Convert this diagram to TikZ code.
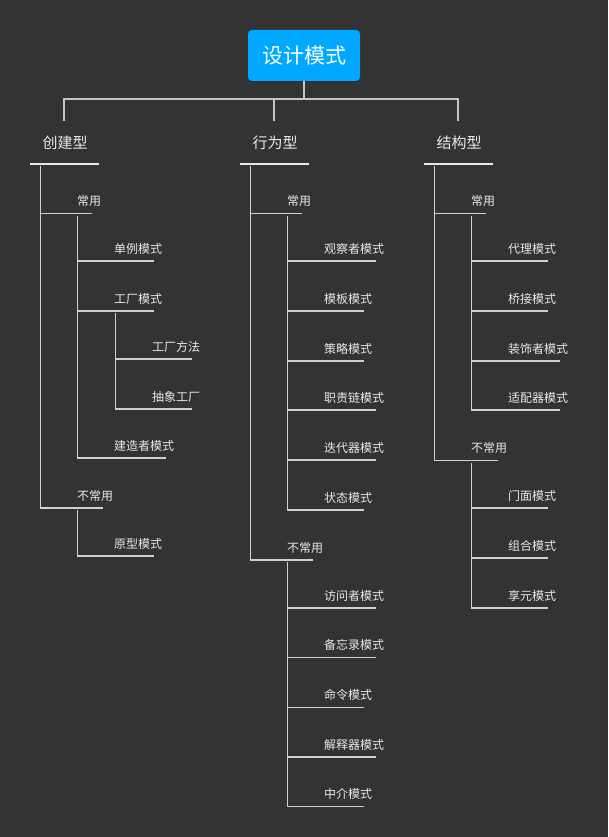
\documentclass[tikz,border=0pt]{standalone}
\usepackage{fontspec}
\setmainfont{Noto Sans CJK SC}
\usetikzlibrary{calc}
\definecolor{bgc}{HTML}{333333}
\definecolor{rootc}{HTML}{00A8FF}
\definecolor{txtc}{HTML}{E8E8E8}
\definecolor{linec}{HTML}{D0D0D0}
\definecolor{topc}{HTML}{C4C4C4}
\tikzset{
  lbl/.style={inner sep=0pt, text=txtc, font=\fontsize{12pt}{14pt}\selectfont},
  lvone/.style={inner sep=0pt, text=txtc, font=\fontsize{15pt}{17pt}\selectfont},
  rootbox/.style={fill=rootc, rounded corners=4pt, minimum width=112pt, minimum height=51pt, inner sep=0pt, text=white, font=\fontsize{21pt}{24pt}\selectfont},
  ul/.style={draw=linec, line width=1.3pt},
  vl/.style={draw=linec, line width=1pt},
  topl/.style={draw=topc, line width=2pt},
  lvul/.style={draw=txtc, line width=2pt}
}
\newcommand\mmitem[5]{%
  \coordinate (#1-s) at (#2,#3);
  \coordinate (#1-e) at (#2+#4,#3);
  \node[lbl,anchor=west] (#1) at (#2+37,#3-12.5) {#5};
  \draw[ul] (#1-s) -- (#1-e);
}
\newcommand\mmtop[4]{% name, centre x, text
  \coordinate (#1-t) at (#2,121);
  \node[lvone] (#1) at (#2+1,143) {#3};
  \coordinate (#1-s) at (#2-34,164);
  \coordinate (#1-e) at (#2+35,164);
  \draw[lvul] (#1-s) -- (#1-e);
}
\begin{document}
\begin{tikzpicture}[x=1pt,y=-1pt]
\fill[bgc] (0,0) rectangle (608,837);
\useasboundingbox (0,0) rectangle (608,837);

\node[rootbox] (root) at (304,55.5) {设计模式};
\coordinate (hub) at (304,99);

\mmtop{c1}{64}{创建型}{}
\mmtop{c2}{274}{行为型}{}
\mmtop{c3}{458}{结构型}{}

\draw[topl] (root.south) -- (hub);
\draw[topl] (c1-t) |- (c3-t |- hub) -- (c3-t);
\draw[topl] (c2-t) -- (c2-t |- hub);

% ---- 创建型
\mmitem{c1a}{40}{213.5}{52}{常用}
\mmitem{c1a1}{77}{261}{77}{单例模式}
\mmitem{c1a2}{77}{311}{77}{工厂模式}
\mmitem{c1a2a}{115}{359}{77}{工厂方法}
\mmitem{c1a2b}{115}{409}{77}{抽象工厂}
\mmitem{c1a3}{77}{458}{89}{建造者模式}
\mmitem{c1b}{40}{508}{63}{不常用}
\mmitem{c1b1}{77}{556}{77}{原型模式}
\draw[vl] (c1a-s |- c1-s) ++(0,2) -- (c1b-s);
\draw[vl] (c1a1-s |- c1a-s) ++(0,2.5) -- (c1a3-s);
\draw[vl] (c1a2a-s |- c1a2-s) ++(0,2) -- (c1a2b-s);
\draw[vl] (c1b1-s |- c1b-s) ++(0,2) -- (c1b1-s);

% ---- 行为型
\mmitem{c2a}{250}{213.5}{52}{常用}
\mmitem{c2a1}{287}{261}{89}{观察者模式}
\mmitem{c2a2}{287}{311}{77}{模板模式}
\mmitem{c2a3}{287}{361}{77}{策略模式}
\mmitem{c2a4}{287}{410}{89}{职责链模式}
\mmitem{c2a5}{287}{460}{89}{迭代器模式}
\mmitem{c2a6}{287}{510}{77}{状态模式}
\mmitem{c2b}{250}{560}{63}{不常用}
\mmitem{c2b1}{287}{608}{89}{访问者模式}
\mmitem{c2b2}{287}{657.5}{89}{备忘录模式}
\mmitem{c2b3}{287}{707.5}{77}{命令模式}
\mmitem{c2b4}{287}{757}{89}{解释器模式}
\mmitem{c2b5}{287}{806.5}{77}{中介模式}
\draw[vl] (c2a-s |- c2-s) ++(0,2) -- (c2b-s);
\draw[vl] (c2a1-s |- c2a-s) ++(0,2.5) -- (c2a6-s);
\draw[vl] (c2b1-s |- c2b-s) ++(0,2) -- (c2b5-s);

% ---- 结构型
\mmitem{c3a}{434}{213.5}{52}{常用}
\mmitem{c3a1}{471}{261}{77}{代理模式}
\mmitem{c3a2}{471}{311}{77}{桥接模式}
\mmitem{c3a3}{471}{361}{89}{装饰者模式}
\mmitem{c3a4}{471}{410}{89}{适配器模式}
\mmitem{c3b}{434}{460.5}{64}{不常用}
\mmitem{c3b1}{471}{508}{77}{门面模式}
\mmitem{c3b2}{471}{558}{77}{组合模式}
\mmitem{c3b3}{471}{608}{77}{享元模式}
\draw[vl] (c3a-s |- c3-s) ++(0,2) -- (c3b-s);
\draw[vl] (c3a1-s |- c3a-s) ++(0,2.5) -- (c3a4-s);
\draw[vl] (c3b1-s |- c3b-s) ++(0,2) -- (c3b3-s);
\end{tikzpicture}
\end{document}
